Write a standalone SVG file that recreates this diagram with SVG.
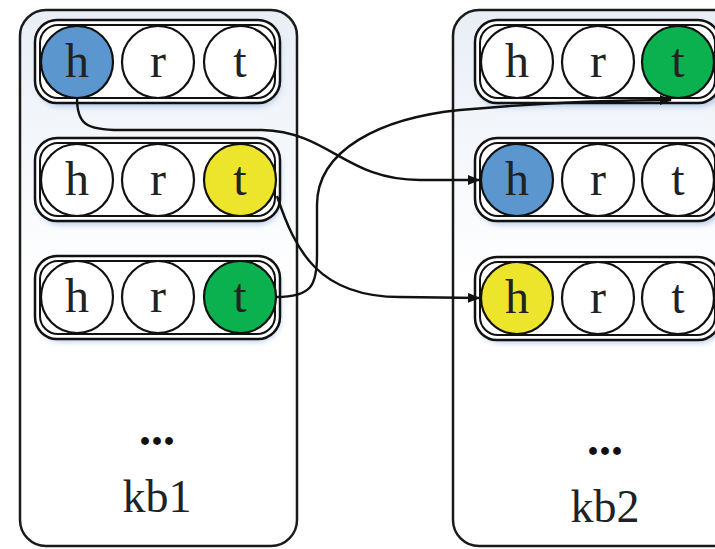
<svg xmlns="http://www.w3.org/2000/svg" width="715" height="549" viewBox="0 0 715 549">
<style>
.box{stroke:#1a1a1a;stroke-width:2.5;fill:url(#bg)}
.pill{fill:#fff;stroke:#111;stroke-width:2.5}
.pin{fill:none;stroke:#111;stroke-width:2}
.c{stroke:#111;stroke-width:2.2;fill:#fff}
.blue{fill:#5b96cf}.yellow{fill:#ede52b}.green{fill:#0bb14f}
.l{font-family:"Liberation Serif","Times New Roman",serif;font-size:48px;fill:#222;text-anchor:middle}
.kb{font-family:"Liberation Serif","Times New Roman",serif;font-size:46px;fill:#222;text-anchor:middle}
.dots{font-family:"Liberation Serif","Times New Roman",serif;font-size:48px;font-weight:bold;fill:#111;text-anchor:middle}
.edge{fill:none;stroke:#111;stroke-width:2.4}
</style>
<defs>
<linearGradient id="bg" x1="0" y1="0" x2="0" y2="1">
<stop offset="0" stop-color="#e9eef6"/>
<stop offset="0.5" stop-color="#ffffff"/>
<stop offset="1" stop-color="#ffffff"/>
</linearGradient>
<filter id="sh" x="-10%" y="-20%" width="120%" height="150%">
<feGaussianBlur stdDeviation="3"/>
</filter>
<marker id="arr" markerWidth="12" markerHeight="10" refX="11" refY="5" orient="auto" markerUnits="userSpaceOnUse">
<path d="M0,0 L12,5 L0,10 Z" fill="#111"/>
</marker>
</defs>

<g id="kb1">
<rect class="box" x="20" y="10" width="277" height="536" rx="26"/>
<text class="dots" x="157" y="445">...</text>
<text class="kb" x="157" y="512">kb1</text>
</g>
<g id="kb2">
<rect class="box" x="453" y="10" width="300" height="536" rx="26"/>
<text class="dots" x="605" y="455">...</text>
<text class="kb" x="605" y="522">kb2</text>
</g>

<g id="kb1-row1">
<rect x="38" y="26" width="242" height="80" rx="22" fill="#aac3e6" filter="url(#sh)"/>
<rect class="pill" x="35" y="20" width="245" height="83" rx="22"/>
<rect class="pin" x="40" y="25" width="235" height="73" rx="18"/>
<circle class="c blue" cx="77" cy="62" r="36"/><text class="l" x="77" y="77">h</text>
<circle class="c" cx="158" cy="62" r="36"/><text class="l" x="158" y="77">r</text>
<circle class="c" cx="240" cy="62" r="36"/><text class="l" x="240" y="77">t</text>
</g>
<g id="kb1-row2">
<rect x="38" y="144" width="242" height="80" rx="22" fill="#aac3e6" filter="url(#sh)"/>
<rect class="pill" x="35" y="138" width="245" height="83" rx="22"/>
<rect class="pin" x="40" y="143" width="235" height="73" rx="18"/>
<circle class="c" cx="77" cy="180" r="36"/><text class="l" x="77" y="195">h</text>
<circle class="c" cx="158" cy="180" r="36"/><text class="l" x="158" y="195">r</text>
<circle class="c yellow" cx="240" cy="180" r="36"/><text class="l" x="240" y="195">t</text>
</g>
<g id="kb1-row3">
<rect x="38" y="261" width="242" height="80" rx="22" fill="#aac3e6" filter="url(#sh)"/>
<rect class="pill" x="35" y="256" width="245" height="83" rx="22"/>
<rect class="pin" x="40" y="261" width="235" height="73" rx="18"/>
<circle class="c" cx="77" cy="297" r="36"/><text class="l" x="77" y="312">h</text>
<circle class="c" cx="158" cy="297" r="36"/><text class="l" x="158" y="312">r</text>
<circle class="c green" cx="240" cy="297" r="36"/><text class="l" x="240" y="312">t</text>
</g>

<g id="kb2-row1">
<rect x="478" y="26" width="245" height="80" rx="22" fill="#aac3e6" filter="url(#sh)"/>
<rect class="pill" x="475" y="20" width="245" height="83" rx="22"/>
<rect class="pin" x="480" y="25" width="235" height="73" rx="18"/>
<circle class="c" cx="517" cy="62" r="36"/><text class="l" x="517" y="77">h</text>
<circle class="c" cx="598" cy="62" r="36"/><text class="l" x="598" y="77">r</text>
<circle class="c green" cx="678" cy="62" r="36"/><text class="l" x="678" y="77">t</text>
</g>
<g id="kb2-row2">
<rect x="478" y="144" width="245" height="80" rx="22" fill="#aac3e6" filter="url(#sh)"/>
<rect class="pill" x="475" y="138" width="245" height="83" rx="22"/>
<rect class="pin" x="480" y="143" width="235" height="73" rx="18"/>
<circle class="c blue" cx="517" cy="180" r="36"/><text class="l" x="517" y="195">h</text>
<circle class="c" cx="598" cy="180" r="36"/><text class="l" x="598" y="195">r</text>
<circle class="c" cx="678" cy="180" r="36"/><text class="l" x="678" y="195">t</text>
</g>
<g id="kb2-row3">
<rect x="478" y="262" width="245" height="80" rx="22" fill="#aac3e6" filter="url(#sh)"/>
<rect class="pill" x="475" y="257" width="245" height="83" rx="22"/>
<rect class="pin" x="480" y="262" width="235" height="73" rx="18"/>
<circle class="c yellow" cx="517" cy="298" r="36"/><text class="l" x="517" y="313">h</text>
<circle class="c" cx="598" cy="298" r="36"/><text class="l" x="598" y="313">r</text>
<circle class="c" cx="678" cy="298" r="36"/><text class="l" x="678" y="313">t</text>
</g>

<g id="connectors">
<path class="edge" d="M77,98 C77,124 86,130 120,130 L262,130 C330,132 345,180 420,180 L479,180" marker-end="url(#arr)"/>
<path class="edge" d="M277,196 C295,250 318,297 400,297 L479,298" marker-end="url(#arr)"/>
<path class="edge" d="M276,297 C312,297 317,285 317,255 L317,205 C317,150 380,118 460,110 C560,101 620,100 671,100" marker-end="url(#arr)"/>
</g>
</svg>
